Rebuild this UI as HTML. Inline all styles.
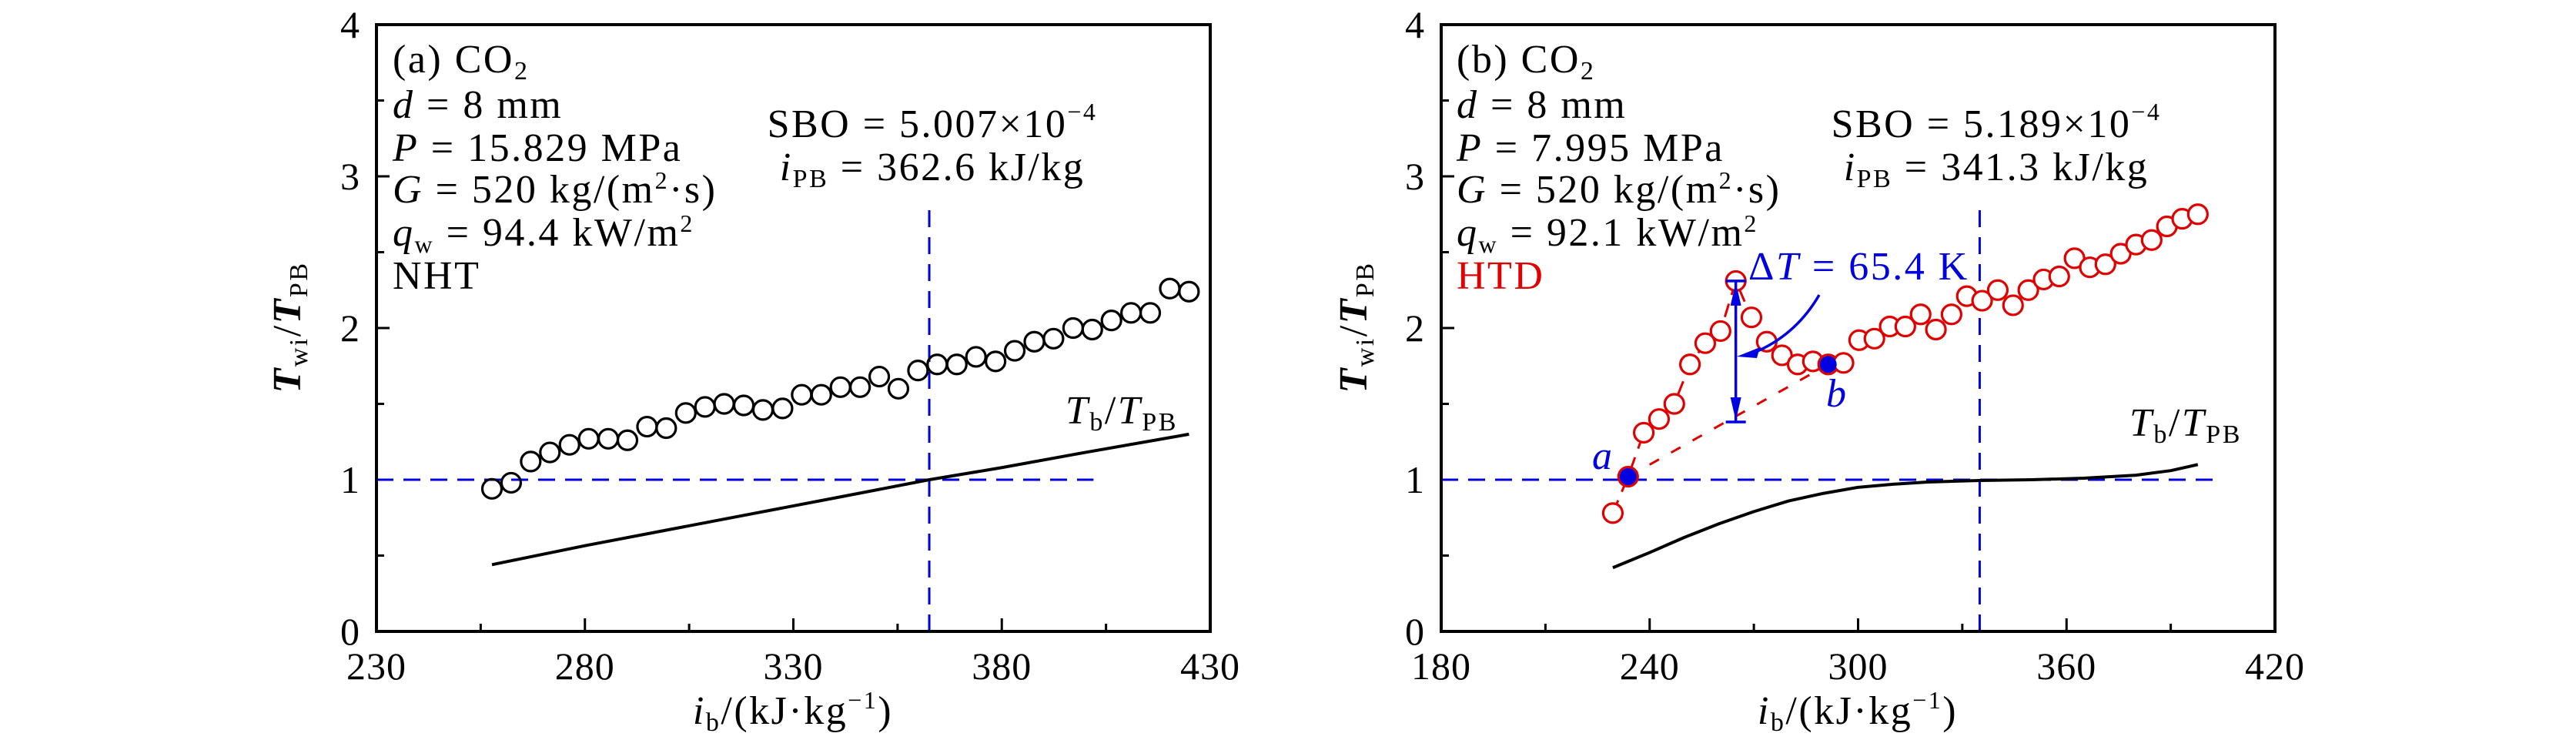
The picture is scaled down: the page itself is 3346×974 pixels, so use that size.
<!DOCTYPE html>
<html><head><meta charset="utf-8"><style>
html,body{margin:0;padding:0;background:#fff;}
svg{display:block;font-family:"Liberation Serif",serif;}
</style></head><body>
<svg id="chart" width="3346" height="974" viewBox="0 0 3346 974" xmlns="http://www.w3.org/2000/svg"></svg>
<script>
// Panel (a) data
const aX = [257.7,262.3,267.0,271.6,276.3,280.9,285.6,290.2,294.9,299.5,304.2,308.8,313.4,318.1,322.7,327.4,332.0,336.7,341.3,346.0,350.6,355.2,359.9,364.5,369.2,373.8,378.5,383.1,387.8,392.4,397.1,401.7,406.3,411.0,415.6,420.3,424.9];
const aY = [0.94,0.98,1.12,1.18,1.23,1.27,1.27,1.26,1.35,1.34,1.44,1.48,1.50,1.49,1.46,1.47,1.56,1.56,1.61,1.61,1.68,1.60,1.72,1.76,1.76,1.81,1.78,1.85,1.91,1.93,2.00,1.99,2.05,2.10,2.10,2.26,2.24];
const aLineX = [257.7,280,300,320,340,362.6,380,400,424.9];
const aLineY = [0.44,0.565,0.67,0.775,0.88,1.0,1.08,1.18,1.30];
const aXTicks = [230,280,330,380,430];
// Panel (b) data
const bX = [229.4,233.8,238.3,242.7,247.1,251.6,256.0,260.4,264.8,269.3,273.7,278.1,282.6,287.0,291.4,295.8,300.3,304.7,309.1,313.6,318.0,322.4,326.9,331.3,335.7,340.2,344.6,349.0,353.4,357.9,362.3,366.7,371.2,375.6,380.0,384.5,388.9,393.3,397.8];
const bY = [0.78,1.02,1.31,1.40,1.50,1.76,1.90,1.98,2.31,2.07,1.91,1.82,1.76,1.78,1.76,1.77,1.92,1.93,2.01,2.01,2.09,1.99,2.09,2.21,2.18,2.25,2.15,2.25,2.32,2.34,2.46,2.40,2.42,2.49,2.55,2.58,2.67,2.72,2.75];
const bLineX = [229.4,240,250,260,270,280,290,300,310,320,335,350,365,380,390,397.8];
const bLineY = [0.42,0.52,0.62,0.71,0.79,0.86,0.91,0.95,0.97,0.985,0.995,1.0,1.01,1.03,1.06,1.10];
const bXTicks = [180,240,300,360,420];
const yTicks = [0,1,2,3,4];

const NS="http://www.w3.org/2000/svg";
const svg=document.getElementById('chart');
function mk(tag,attrs,parent){const e=document.createElementNS(NS,tag);for(const k in attrs)e.setAttribute(k,attrs[k]);(parent||svg).appendChild(e);return e;}

function panel(P){
  const g=mk('g',{});
  
  
  const sx=v=>P.x0+(v-P.xmin)/(P.xmax-P.xmin)*(P.x1-P.x0);
  const sy=v=>P.y1-(v-0)/4*(P.y1-P.y0);
  let k=0;
  for(let v=P.xmin;v<=P.xmax+1e-6;v+=P.minor,k++){
    const len=(k%2===0)?17:10;
    const t=mk('line',{x1:sx(v),x2:sx(v),y1:P.y1,y2:P.y1-len,stroke:'#000','stroke-width':3},g);
    
  }
  k=0;
  for(let v=0;v<=4;v+=0.5,k++){
    const len=(k%2===0)?17:10;
    const t=mk('line',{x1:P.x0,x2:P.x0+len,y1:sy(v),y2:sy(v),stroke:'#000','stroke-width':3},g);
    
  }
  P.xticks.forEach(v=>{const t=mk('text',{x:sx(v),y:P.y1+62,'text-anchor':'middle','font-size':50,'letter-spacing':1},g);t.textContent=v;
    });
  yTicks.forEach(v=>{const t=mk('text',{x:P.x0-22,y:sy(v)+17,'text-anchor':'end','font-size':50},g);t.textContent=v;
    });
  const h=mk('line',{x1:P.x0,x2:sx(P.hEnd),y1:sy(1),y2:sy(1),stroke:'#0000e0','stroke-width':3,'stroke-dasharray':'22 13'},g);
  
  const vl=mk('line',{x1:sx(P.vX),x2:sx(P.vX),y1:P.y1,y2:sy(P.vTop),stroke:'#0000e0','stroke-width':3,'stroke-dasharray':'22 13'},g);
  
  const pl=mk('polyline',{points:P.lx.map((x,i)=>sx(x)+','+sy(P.ly[i])).join(' '),fill:'none',stroke:'#000','stroke-width':4,'stroke-linejoin':'round'},g);
  
  if(P.connect){
    const c=mk('polyline',{points:P.px.slice(0,P.connect).map((x,i)=>sx(x)+','+sy(P.py[i])).join(' '),fill:'none',stroke:'#e00000','stroke-width':3,'stroke-dasharray':'18 12'},g);
    
  }
  if(P.extra)P.extra(g,sx,sy);
  P.px.forEach((x,i)=>{
    const c=mk('circle',{cx:sx(x),cy:sy(P.py[i]),r:12.5,fill:'#fff','fill-opacity':P.connect?1:0,stroke:P.color,'stroke-width':3.2},g);
    
  });
  if(P.after)P.after(g,sx,sy);
  const fr=mk('rect',{x:P.x0,y:P.y0,width:P.x1-P.x0,height:P.y1-P.y0,fill:'none',stroke:'#000','stroke-width':4},g);
  
  return g;
}

function txt(g,x,y,html,name,opts){
  const t=mk('text',Object.assign({x:x,y:y,'font-size':52,'letter-spacing':2.5},opts||{}),g);
  t.innerHTML=html;
  
  return t;
}

const ga=panel({name:'panel-a',x0:489,x1:1572,y0:32,y1:820,xmin:230,xmax:430,minor:25,xticks:aXTicks,
  px:aX,py:aY,lx:aLineX,ly:aLineY,color:'#000',hEnd:402,vX:362.6,vTop:2.81});
const gb=panel({name:'panel-b',x0:1872,x1:2955,y0:32,y1:820,xmin:180,xmax:420,minor:30,xticks:bXTicks,
  px:bX,py:bY,lx:bLineX,ly:bLineY,color:'#e00000',hEnd:404.2,vX:335,vTop:2.83,connect:10,
  extra:(g,sx,sy)=>{
    const d=mk('line',{x1:sx(bX[1]),y1:sy(bY[1]),x2:sx(bX[14]),y2:sy(bY[14]),stroke:'#e00000','stroke-width':3,'stroke-dasharray':'14 18'},g);
    
  },
  after:(g,sx,sy)=>{
    [1,14].forEach(i=>{const c=mk('circle',{cx:sx(bX[i]),cy:sy(bY[i]),r:11,fill:'#0000e0'},g);
      });
    const ax=sx(bX[8]), yt=sy(bY[8]), yb=548;
    const arr=mk('g',{},g);
    mk('line',{x1:ax,x2:ax,y1:yt,y2:yb,stroke:'#0000e0','stroke-width':3.5},arr);
    mk('line',{x1:ax-13,x2:ax+13,y1:yt,y2:yt,stroke:'#0000e0','stroke-width':3.5},arr);
    mk('line',{x1:ax-13,x2:ax+13,y1:yb,y2:yb,stroke:'#0000e0','stroke-width':3.5},arr);
    mk('path',{d:`M${ax},${yt+2} l-7,30 l14,0 z`,fill:'#0000e0'},arr);
    mk('path',{d:`M${ax},${yb-2} l-7,-30 l14,0 z`,fill:'#0000e0'},arr);
    const cv=mk('path',{d:`M2363,383 Q2330,440 2268,462`,fill:'none',stroke:'#0000e0','stroke-width':3.5},g);
    
    const hd=mk('path',{d:'M2256,463 l30,-12 l-4,14 z',fill:'#0000e0'},g);
    
  }});

const L=[['(a) CO<tspan font-size="34" dy="9">2</tspan>',94],['<tspan font-style="italic">d</tspan> = 8 mm',153],['<tspan font-style="italic">P</tspan> = 15.829 MPa',209],['<tspan font-style="italic">G</tspan> = 520 kg/(m<tspan font-size="32" dy="-18">2</tspan><tspan dy="18">·s)</tspan>',263],['<tspan font-style="italic">q</tspan><tspan font-size="32" dy="9">w</tspan><tspan dy="-9"> = 94.4 kW/m</tspan><tspan font-size="32" dy="-18">2</tspan>',319],['NHT',375]];
L.forEach(r=>txt(ga,510,r[1],r[0],'condition-label-a'));
const R=[['(b) CO<tspan font-size="34" dy="9">2</tspan>',94],['<tspan font-style="italic">d</tspan> = 8 mm',153],['<tspan font-style="italic">P</tspan> = 7.995 MPa',209],['<tspan font-style="italic">G</tspan> = 520 kg/(m<tspan font-size="32" dy="-18">2</tspan><tspan dy="18">·s)</tspan>',263],['<tspan font-style="italic">q</tspan><tspan font-size="32" dy="9">w</tspan><tspan dy="-9"> = 92.1 kW/m</tspan><tspan font-size="32" dy="-18">2</tspan>',319]];
R.forEach(r=>txt(gb,1892,r[1],r[0],'condition-label-b'));
txt(gb,1892,375,'HTD','htd-label',{fill:'#e00000'});

txt(ga,1211,178,'SBO = 5.007×10<tspan font-size="32" dy="-22">−4</tspan>','sbo-label-a',{'text-anchor':'middle'});
txt(ga,1211,234,'<tspan font-style="italic">i</tspan><tspan font-size="34" dy="9">PB</tspan><tspan dy="-9"> = 362.6 kJ/kg</tspan>','ipb-label-a',{'text-anchor':'middle'});
txt(gb,2593,178,'SBO = 5.189×10<tspan font-size="32" dy="-22">−4</tspan>','sbo-label-b',{'text-anchor':'middle'});
txt(gb,2593,234,'<tspan font-style="italic">i</tspan><tspan font-size="34" dy="9">PB</tspan><tspan dy="-9"> = 341.3 kJ/kg</tspan>','ipb-label-b',{'text-anchor':'middle'});

const tb='<tspan font-style="italic">T</tspan><tspan font-size="34" dy="9">b</tspan><tspan dy="-9">/</tspan><tspan font-style="italic">T</tspan><tspan font-size="34" dy="9">PB</tspan>';
txt(ga,1384,550,tb,'bulk-line-label-a');
txt(gb,2766,566,tb,'bulk-line-label-b');
txt(gb,2271,363,'Δ<tspan font-style="italic">T</tspan> = 65.4 K','delta-t-label',{fill:'#0000e0'});
txt(gb,2068,609,'a','point-a-label',{fill:'#0000e0','font-style':'italic'});
txt(gb,2372,528,'b','point-b-label',{fill:'#0000e0','font-style':'italic'});

const xt='<tspan font-style="italic">i</tspan><tspan font-size="34" dy="9">b</tspan><tspan dy="-9">/(kJ·kg</tspan><tspan font-size="32" dy="-20">−1</tspan><tspan dy="20">)</tspan>';
txt(ga,1030,940,xt,'x-axis-title-a',{'text-anchor':'middle'});
txt(gb,2413,940,xt,'x-axis-title-b',{'text-anchor':'middle'});
const yt='<tspan font-style="italic" font-weight="bold">T</tspan><tspan font-size="34" dy="9">wi</tspan><tspan dy="-9">/</tspan><tspan font-style="italic" font-weight="bold">T</tspan><tspan font-size="34" dy="9">PB</tspan>';
txt(ga,0,0,yt,'y-axis-title-a',{'text-anchor':'middle',transform:'translate(390,425) rotate(-90)'});
txt(gb,0,0,yt,'y-axis-title-b',{'text-anchor':'middle',transform:'translate(1775,425) rotate(-90)'});
</script>
</body></html>
